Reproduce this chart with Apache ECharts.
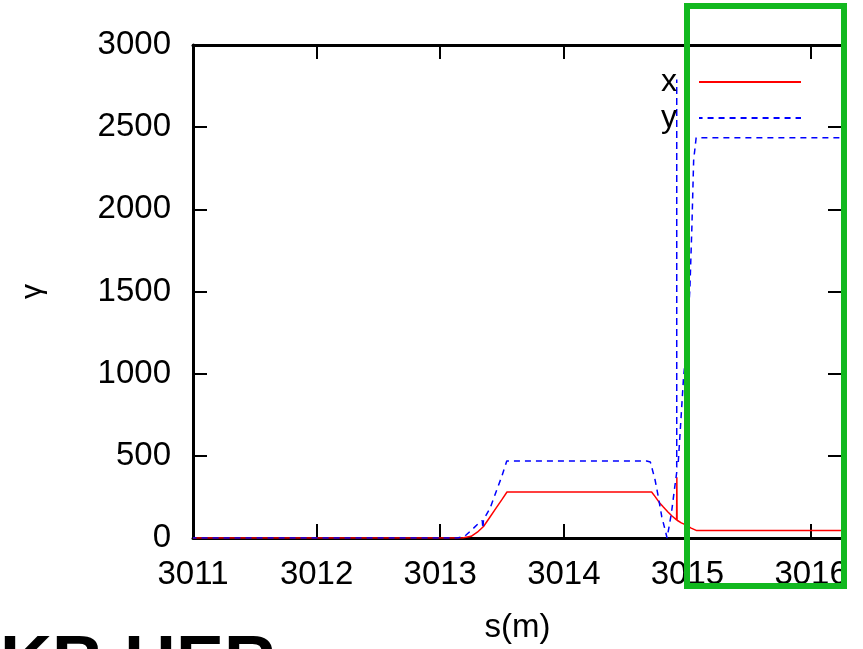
<!DOCTYPE html>
<html>
<head>
<meta charset="utf-8">
<script src="https://cdn.jsdelivr.net/npm/echarts@6/dist/echarts.min.js"></script>
<style>
  html, body { margin: 0; padding: 0; background: #ffffff; }
  #chart { width: 863px; height: 649px; }
</style>
</head>
<body>
<div id="chart"></div>
<script>
// Lorentz factor along the beam line, horizontal (x) and vertical (y) planes
const sX = [3011, 3013.18, 3013.25, 3013.30, 3013.35, 3013.40, 3013.45, 3013.50, 3013.54,
            3014.71, 3014.74, 3014.77, 3014.805, 3014.84, 3014.875, 3014.912, 3014.914, 3014.916,
            3014.95, 3014.99, 3015.03, 3015.075, 3016.25];
const gammaX = [0, 0, 10, 35, 70, 125, 180, 235, 280,
                280, 250, 218, 188, 160, 134, 110, 370, 108,
                92, 78, 60, 45, 45];

const sY = [3011, 3013.14, 3013.20, 3013.255, 3013.30, 3013.34, 3013.345, 3013.35, 3013.403,
            3013.457, 3013.497, 3013.538, 3014.67, 3014.70, 3014.712, 3014.738, 3014.764,
            3014.792, 3014.819, 3014.835, 3014.87, 3014.897, 3014.913, 3014.913, 3014.913,
            3014.925, 3014.967, 3015.0, 3015.02, 3015.035, 3015.05, 3015.07, 3016.25];
const gammaY = [0, 0, 12, 49, 82, 106, 58, 112, 181,
                292, 373, 468, 468, 462, 455, 353, 251,
                130, 49, 0, 150, 310, 400, 2790, 430,
                455, 962, 1250, 1528, 1875, 2300, 2435, 2435];

const sMin = 3011, sMax = 3016.25, sStep = 1;
const gMin = 0, gMax = 3000, gStep = 500;

const FONT = '"Liberation Sans", Arial, Helvetica, sans-serif';
const DASH = [6, 5];

function pairs(xs, ys) { return xs.map((v, i) => [v, ys[i]]); }

const chart = echarts.init(document.getElementById('chart'), null, { renderer: 'canvas' });

const axisLine = { show: true, onZero: false, lineStyle: { color: '#000', width: 3 } };
const axisTick = { show: true, inside: true, length: 14, lineStyle: { color: '#000', width: 2 } };

const intLabel = v => (Math.abs(v - Math.round(v)) < 1e-9 ? String(Math.round(v)) : '');

chart.setOption({
  animation: false,
  backgroundColor: '#ffffff',
  grid: { left: 193, top: 45, right: 21, bottom: 111, containLabel: false },
  legend: {
    orient: 'vertical',
    right: 56,
    top: 61,
    align: 'right',
    itemWidth: 102,
    itemHeight: 14,
    itemGap: 4,
    data: ['x', 'y'],
    itemStyle: { opacity: 0 },
    textStyle: { fontFamily: FONT, fontSize: 32, color: '#000', lineHeight: 30, padding: [0, 17, 0, 0] }
  },
  xAxis: [
    {
      type: 'value', position: 'bottom', min: sMin, max: sMax, interval: sStep,
      name: 's(m)', nameLocation: 'middle', nameGap: 73,
      nameTextStyle: { fontFamily: FONT, fontSize: 33, color: '#000' },
      axisLine, axisTick,
      axisLabel: { fontFamily: FONT, fontSize: 33, color: '#000', margin: 20, formatter: intLabel },
      splitLine: { show: false }
    },
    {
      type: 'value', position: 'top', min: sMin, max: sMax, interval: sStep,
      axisLine, axisTick, axisLabel: { show: false }, splitLine: { show: false }
    }
  ],
  yAxis: [
    {
      type: 'value', position: 'left', min: gMin, max: gMax, interval: gStep,
      name: 'γ', nameLocation: 'middle', nameRotate: 90, nameGap: 145,
      nameTextStyle: { fontFamily: FONT, fontSize: 30, color: '#000' },
      axisLine, axisTick,
      axisLabel: { fontFamily: FONT, fontSize: 33, color: '#000', margin: 22, formatter: v => String(v) },
      splitLine: { show: false }
    },
    {
      type: 'value', position: 'right', min: gMin, max: gMax, interval: gStep,
      axisLine, axisTick, axisLabel: { show: false }, splitLine: { show: false }
    }
  ],
  series: [
    {
      name: 'x', type: 'line', data: pairs(sX, gammaX), showSymbol: false, symbol: 'none',
      xAxisIndex: 0, yAxisIndex: 0,
      lineStyle: { color: '#ff0000', width: 1.5 }, itemStyle: { color: '#ff0000' }
    },
    {
      name: 'y', type: 'line', data: pairs(sY, gammaY), showSymbol: false, symbol: 'none',
      xAxisIndex: 0, yAxisIndex: 0,
      lineStyle: { color: '#0000ff', width: 1.5, type: DASH }, itemStyle: { color: '#0000ff' }
    }
  ],
  graphic: [
    {
      type: 'rect', z: 100,
      shape: { x: 687, y: 6, width: 157, height: 580 },
      style: { fill: 'none', stroke: '#12b81f', lineWidth: 6 }
    },
    {
      type: 'text', z: 100, x: -100, y: 630,
      style: { text: 'KEKB HER', font: 'bold 72px ' + FONT, fill: '#000', textVerticalAlign: 'top' }
    }
  ]
});

// Shift the dash phase so the up- and down-strokes of the narrow spike share one dash pattern
(function alignSpikeDash() {
  const pts = pairs(sY, gammaY).map(p => chart.convertToPixel({ xAxisIndex: 0, yAxisIndex: 0 }, p));
  const peak = gammaY.indexOf(Math.max(...gammaY));
  let len = 0;
  for (let i = 1; i <= peak; i++) {
    len += Math.hypot(pts[i][0] - pts[i - 1][0], pts[i][1] - pts[i - 1][1]);
  }
  const period = DASH[0] + DASH[1];
  const centre = DASH[0] / 2;
  const offset = (((centre - len) % period) + period) % period;
  chart.setOption({ series: [{}, { lineStyle: { dashOffset: offset } }] });
})();
</script>
</body>
</html>
